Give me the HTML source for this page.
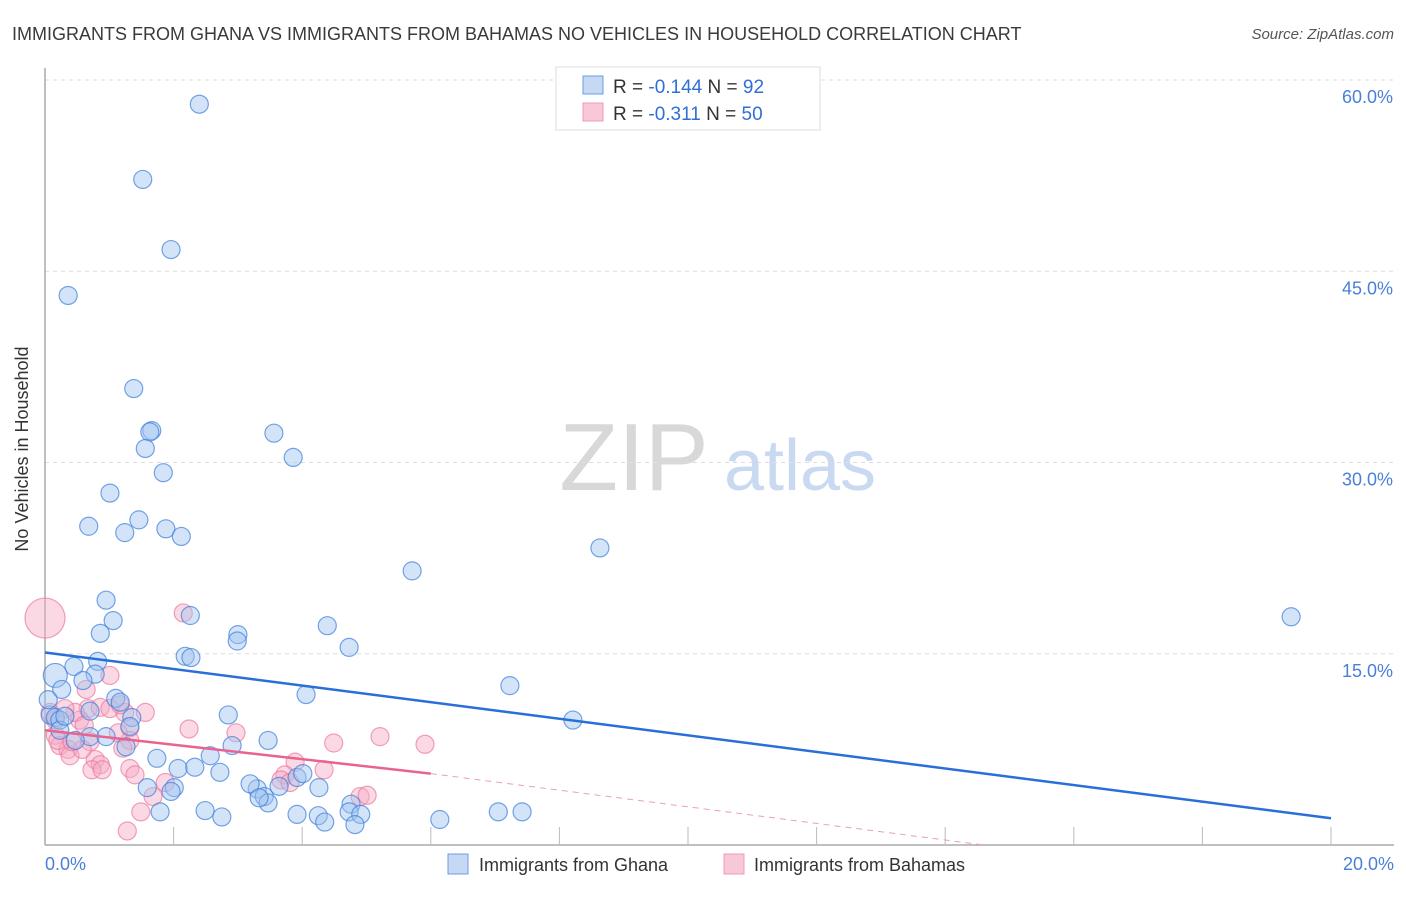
<!DOCTYPE html>
<html><head><meta charset="utf-8"><style>
body{margin:0;background:#fff;font-family:"Liberation Sans",sans-serif;}
svg text{font-family:"Liberation Sans",sans-serif;}
</style></head><body>
<svg id="c" width="1406" height="892" xmlns="http://www.w3.org/2000/svg">
<text x="12" y="40" font-size="18" fill="#3a3a3a">IMMIGRANTS FROM GHANA VS IMMIGRANTS FROM BAHAMAS NO VEHICLES IN HOUSEHOLD CORRELATION CHART</text>
<text x="1394" y="39" font-size="15" fill="#555" font-style="italic" text-anchor="end">Source: ZipAtlas.com</text>
<text x="35" y="456" font-size="18" fill="#333" text-anchor="middle" transform="rotate(-90 28 456)">No Vehicles in Household</text>
<g>
<text x="634" y="490" font-size="96" fill="#d8d8d8" font-family="Liberation Serif,serif" text-anchor="middle">ZIP</text>
<text x="800" y="490" font-size="72" fill="#c9d9f1" text-anchor="middle">atlas</text>
</g>
<g id="grid"></g><g id="axes"></g><g id="pts"></g><g id="trend"></g>
<g>
<rect x="556" y="67" width="264" height="63" fill="#fff" stroke="#ddd"/>
<rect x="583" y="76" width="20" height="18" fill="#c5d9f5" stroke="#6a9be3"/>
<rect x="583" y="103" width="20" height="18" fill="#f9c8d6" stroke="#f09ab5"/>
<text x="613" y="93" font-size="19" fill="#333">R = <tspan fill="#2f6fd6">-0.144</tspan>   N = <tspan fill="#2f6fd6">92</tspan></text>
<text x="613" y="120" font-size="19" fill="#333">R =  <tspan fill="#2f6fd6">-0.311</tspan>   N = <tspan fill="#2f6fd6">50</tspan></text>
</g>
<g>
<rect x="448" y="854" width="20" height="20" fill="#c5d9f5" stroke="#6a9be3"/>
<text x="479" y="871" font-size="18" fill="#333">Immigrants from Ghana</text>
<rect x="724" y="854" width="20" height="20" fill="#f9c8d6" stroke="#f09ab5"/>
<text x="754" y="871" font-size="18" fill="#333">Immigrants from Bahamas</text>
</g>
</svg>
<script>
const yTicks=[15,30,45,60];
const yTickLabels=["15.0%","30.0%","45.0%","60.0%"];
const xTickLabels=["0.0%","20.0%"];
const blueX=[2.40,1.52,1.96,0.36,1.38,1.66,1.63,1.56,1.84,1.01,3.56,3.86,0.68,1.46,1.88,1.24,2.12,8.63,5.71,0.95,2.26,1.06,0.86,3.00,2.99,4.39,4.73,2.18,2.27,0.82,0.45,0.16,0.26,0.78,0.59,4.06,7.23,1.10,1.17,1.35,8.21,2.85,0.08,0.16,0.23,0.70,1.32,0.70,0.47,0.95,1.26,2.91,3.47,1.74,2.57,2.07,2.72,1.59,2.01,2.33,3.30,3.64,3.19,3.92,4.26,4.01,3.41,3.47,3.33,1.96,1.79,2.49,2.75,4.25,3.92,4.35,4.76,4.73,4.91,4.82,6.14,7.05,7.42,19.38,0.05,0.23,0.31];
const blueY=[58.1,52.2,46.7,43.1,35.8,32.5,32.4,31.1,29.2,27.6,32.3,30.4,25.0,25.5,24.8,24.5,24.2,23.3,21.5,19.2,18.0,17.6,16.6,16.5,16.0,17.2,15.5,14.8,14.7,14.4,14.0,13.3,12.2,13.4,12.9,11.8,12.5,11.5,11.2,10.0,9.8,10.2,10.2,10.0,9.8,10.5,9.3,8.5,8.2,8.5,7.7,7.8,8.2,6.8,7.0,6.0,5.7,4.5,4.5,6.1,4.4,4.6,4.8,5.3,4.5,5.6,3.8,3.3,3.7,4.2,2.6,2.7,2.2,2.3,2.4,1.8,3.2,2.6,2.4,1.6,2.0,2.6,2.6,17.9,11.4,9.0,10.1];
const pinkX=[0,2.15,0.64,1.01,0.67,0.86,0.54,0.47,1.24,1.56,1.32,0.08,0.16,0.23,0.36,0.39,0.70,0.78,0.86,1.32,1.21,1.32,1.14,2.24,2.97,1.40,1.87,0.16,3.89,3.73,3.67,4.34,4.49,5.21,5.91,4.90,5.01,1.68,1.28,1.49,1.01,1.17,0.58,0.73,0.89,0.31,0.20,0.42,0.61,3.81];
const pinkY=[17.8,18.2,12.2,13.3,10.7,10.8,9.8,10.4,10.4,10.4,9.2,10.4,8.6,7.8,7.5,7.0,8.1,6.7,6.3,8.2,7.6,6.0,8.8,9.1,8.8,5.5,4.9,9.8,6.5,5.5,5.1,5.9,8.0,8.5,7.9,3.8,3.9,3.8,1.1,2.6,10.7,11.0,7.5,5.9,5.9,10.7,8.2,8.1,9.4,4.9];
const blueTrendX=[0,20], blueTrendY=[15.1,2.1];
const pinkTrendX=[0,6,14.6], pinkTrendY=[9.0,5.6,0];
const NS="http://www.w3.org/2000/svg";
const X=v=>45+v*(1286/20), Y=v=>845-v*(765/60);
function mk(t,a,p){const e=document.createElementNS(NS,t);for(const k in a)e.setAttribute(k,a[k]);document.getElementById(p).appendChild(e);return e;}
yTicks.forEach((t,i)=>{
 const l=mk('line',{x1:45,x2:1394,y1:Y(t),y2:Y(t),stroke:'#ddd','stroke-dasharray':'4,4'},'grid');
 
 
 const tx=mk('text',{x:1393,y:Y(t)+23,'font-size':18,fill:'#4a7fd8','text-anchor':'end'},'grid');tx.textContent=yTickLabels[i];
 
 
});
const ax=mk('line',{x1:45,x2:1394,y1:845,y2:845,stroke:'#aaa','stroke-width':1.5},'axes');


const ay=mk('line',{x1:45,x2:45,y1:68,y2:845,stroke:'#aaa','stroke-width':1.5},'axes');


for(let i=1;i<=10;i++){const tk=mk('line',{x1:X(i*2),x2:X(i*2),y1:827,y2:845,stroke:'#bbb'},'axes');
 
 }
[[0,'start',45],[20,'end',1394]].forEach((d,i)=>{const t=mk('text',{x:d[2],y:870,'font-size':18,fill:'#4a7fd8','text-anchor':d[1]},'axes');t.textContent=xTickLabels[i];
 
 });
pinkX.forEach((v,i)=>{const c=mk('circle',{cx:X(v),cy:Y(pinkY[i]),r:i===0?20:9,fill:'rgba(246,170,195,0.45)',stroke:'rgba(236,120,160,0.7)','stroke-width':1.2},'pts');
 
 });
blueX.forEach((v,i)=>{const c=mk('circle',{cx:X(v),cy:Y(blueY[i]),r:(i===31?12:9),fill:'rgba(160,196,240,0.45)',stroke:'rgba(60,125,220,0.7)','stroke-width':1.2},'pts');
 
 });
const bt=mk('line',{x1:X(blueTrendX[0]),y1:Y(blueTrendY[0]),x2:X(blueTrendX[1]),y2:Y(blueTrendY[1]),stroke:'#2a6fd8','stroke-width':2.5},'trend');


const pt=mk('line',{x1:X(pinkTrendX[0]),y1:Y(pinkTrendY[0]),x2:X(pinkTrendX[1]),y2:Y(pinkTrendY[1]),stroke:'#e8638f','stroke-width':2.5},'trend');


const pd=mk('line',{x1:X(pinkTrendX[1]),y1:Y(pinkTrendY[1]),x2:X(pinkTrendX[2]),y2:Y(pinkTrendY[2]),stroke:'#e8a0b8','stroke-width':1,'stroke-dasharray':'6,5'},'trend');


</script>
</body></html>
